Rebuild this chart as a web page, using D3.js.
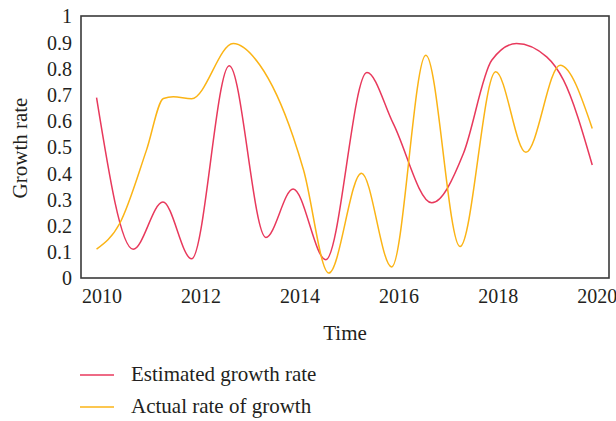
<!DOCTYPE html>
<html>
<head>
<meta charset="utf-8">
<script src="https://cdn.jsdelivr.net/npm/d3@7"></script>
<style>
    body { margin: 0; background: #fff; }
    svg text { font-family: "Liberation Serif", "DejaVu Serif", serif; fill: #231f20; }
</style>
</head>
<body>
<svg id="chart" width="616" height="421"></svg>
<script>
// values
const estTime = [2009.90, 2010.64, 2011.24, 2011.82, 2012.58, 2013.32, 2013.87, 2014.53, 2015.36, 2015.89, 2016.67, 2017.31, 2017.88, 2018.38, 2018.99, 2019.33, 2019.91];
const estRate = [0.688, 0.110, 0.290, 0.073, 0.810, 0.155, 0.340, 0.070, 0.784, 0.590, 0.287, 0.476, 0.831, 0.895, 0.844, 0.755, 0.431];

const actTime = [2009.90, 2010.37, 2010.91, 2011.25, 2011.45, 2011.82, 2012.66, 2013.20, 2013.87, 2014.08, 2014.59, 2015.25, 2015.86, 2016.55, 2017.24, 2017.96, 2018.57, 2019.26, 2019.91];
const actRate = [0.110, 0.209, 0.489, 0.685, 0.692, 0.684, 0.895, 0.812, 0.539, 0.412, 0.019, 0.400, 0.042, 0.850, 0.120, 0.787, 0.480, 0.812, 0.571];

const xTicks = [2010, 2012, 2014, 2016, 2018, 2020];
const yTicks = [0, 0.1, 0.2, 0.3, 0.4, 0.5, 0.6, 0.7, 0.8, 0.9, 1];

const seriesNames = ['Estimated growth rate', 'Actual rate of growth'];
const seriesColors = ['#e8395c', '#fbb416'];

const frame = {left: 81, right: 609, top: 16, bottom: 278};

const svg = d3.select('#chart');

const x = d3.scaleLinear()
    .domain([2010, 2020])
    .range([101.5, 596.7]);
const y = d3.scaleLinear()
    .domain([0, 1])
    .range([frame.bottom, frame.top]);

// frame
svg.append('rect')
    .attr('x', frame.left)
    .attr('y', frame.top)
    .attr('width', frame.right - frame.left)
    .attr('height', frame.bottom - frame.top)
    .attr('fill', 'none')
    .attr('stroke', '#3a3a3a')
    .attr('stroke-width', 1.6);

// axes (labels only, no tick marks)
const xAxis = d3.axisBottom(x).tickValues(xTicks).tickFormat(d3.format('d')).tickSize(0).tickPadding(0);
const yAxis = d3.axisLeft(y).tickValues(yTicks).tickFormat(d => d === 0 || d === 1 ? d : d3.format('.1f')(d)).tickSize(0).tickPadding(0);

const gx = svg.append('g')
    .attr('transform', 'translate(0,' + frame.bottom + ')')
    .call(xAxis);
gx.select('.domain').remove();
gx.selectAll('text')
    .attr('y', 25)
    .attr('dy', 0)
    .style('font-size', '20px')
    .style('font-family', '"Liberation Serif", serif')
    .attr('fill', '#231f20');

const gy = svg.append('g')
    .attr('transform', 'translate(72,0)')
    .call(yAxis);
gy.select('.domain').remove();
gy.selectAll('text')
    .attr('x', 0)
    .attr('dy', '0.34em')
    .style('font-size', '20px')
    .style('font-family', '"Liberation Serif", serif')
    .attr('fill', '#231f20');

// axis titles
svg.append('text')
    .attr('x', 345)
    .attr('y', 340)
    .attr('text-anchor', 'middle')
    .style('font-size', '21px')
    .text('Time');

svg.append('text')
    .attr('transform', 'translate(27,148) rotate(-90)')
    .attr('text-anchor', 'middle')
    .style('font-size', '21px')
    .text('Growth rate');

// lines
const line = d3.line()
    .x(d => x(d[0]))
    .y(d => y(d[1]))
    .curve(d3.curveMonotoneX);

const series = [
    d3.zip(estTime, estRate),
    d3.zip(actTime, actRate)
];

svg.selectAll('.series')
    .data(series)
    .enter()
    .append('path')
    .attr('class', 'series')
    .attr('d', line)
    .attr('fill', 'none')
    .attr('stroke', (d, i) => seriesColors[i])
    .attr('stroke-width', 1.5);

// legend
const legend = svg.selectAll('.legend')
    .data(seriesNames)
    .enter()
    .append('g')
    .attr('class', 'legend')
    .attr('transform', (d, i) => 'translate(80,' + (375 + i * 32) + ')');

legend.append('line')
    .attr('x1', 0)
    .attr('x2', 34)
    .attr('stroke', (d, i) => seriesColors[i])
    .attr('stroke-width', 1.5);

legend.append('text')
    .attr('x', 51)
    .attr('y', 6)
    .style('font-size', '21px')
    .text(d => d);
</script>
</body>
</html>
